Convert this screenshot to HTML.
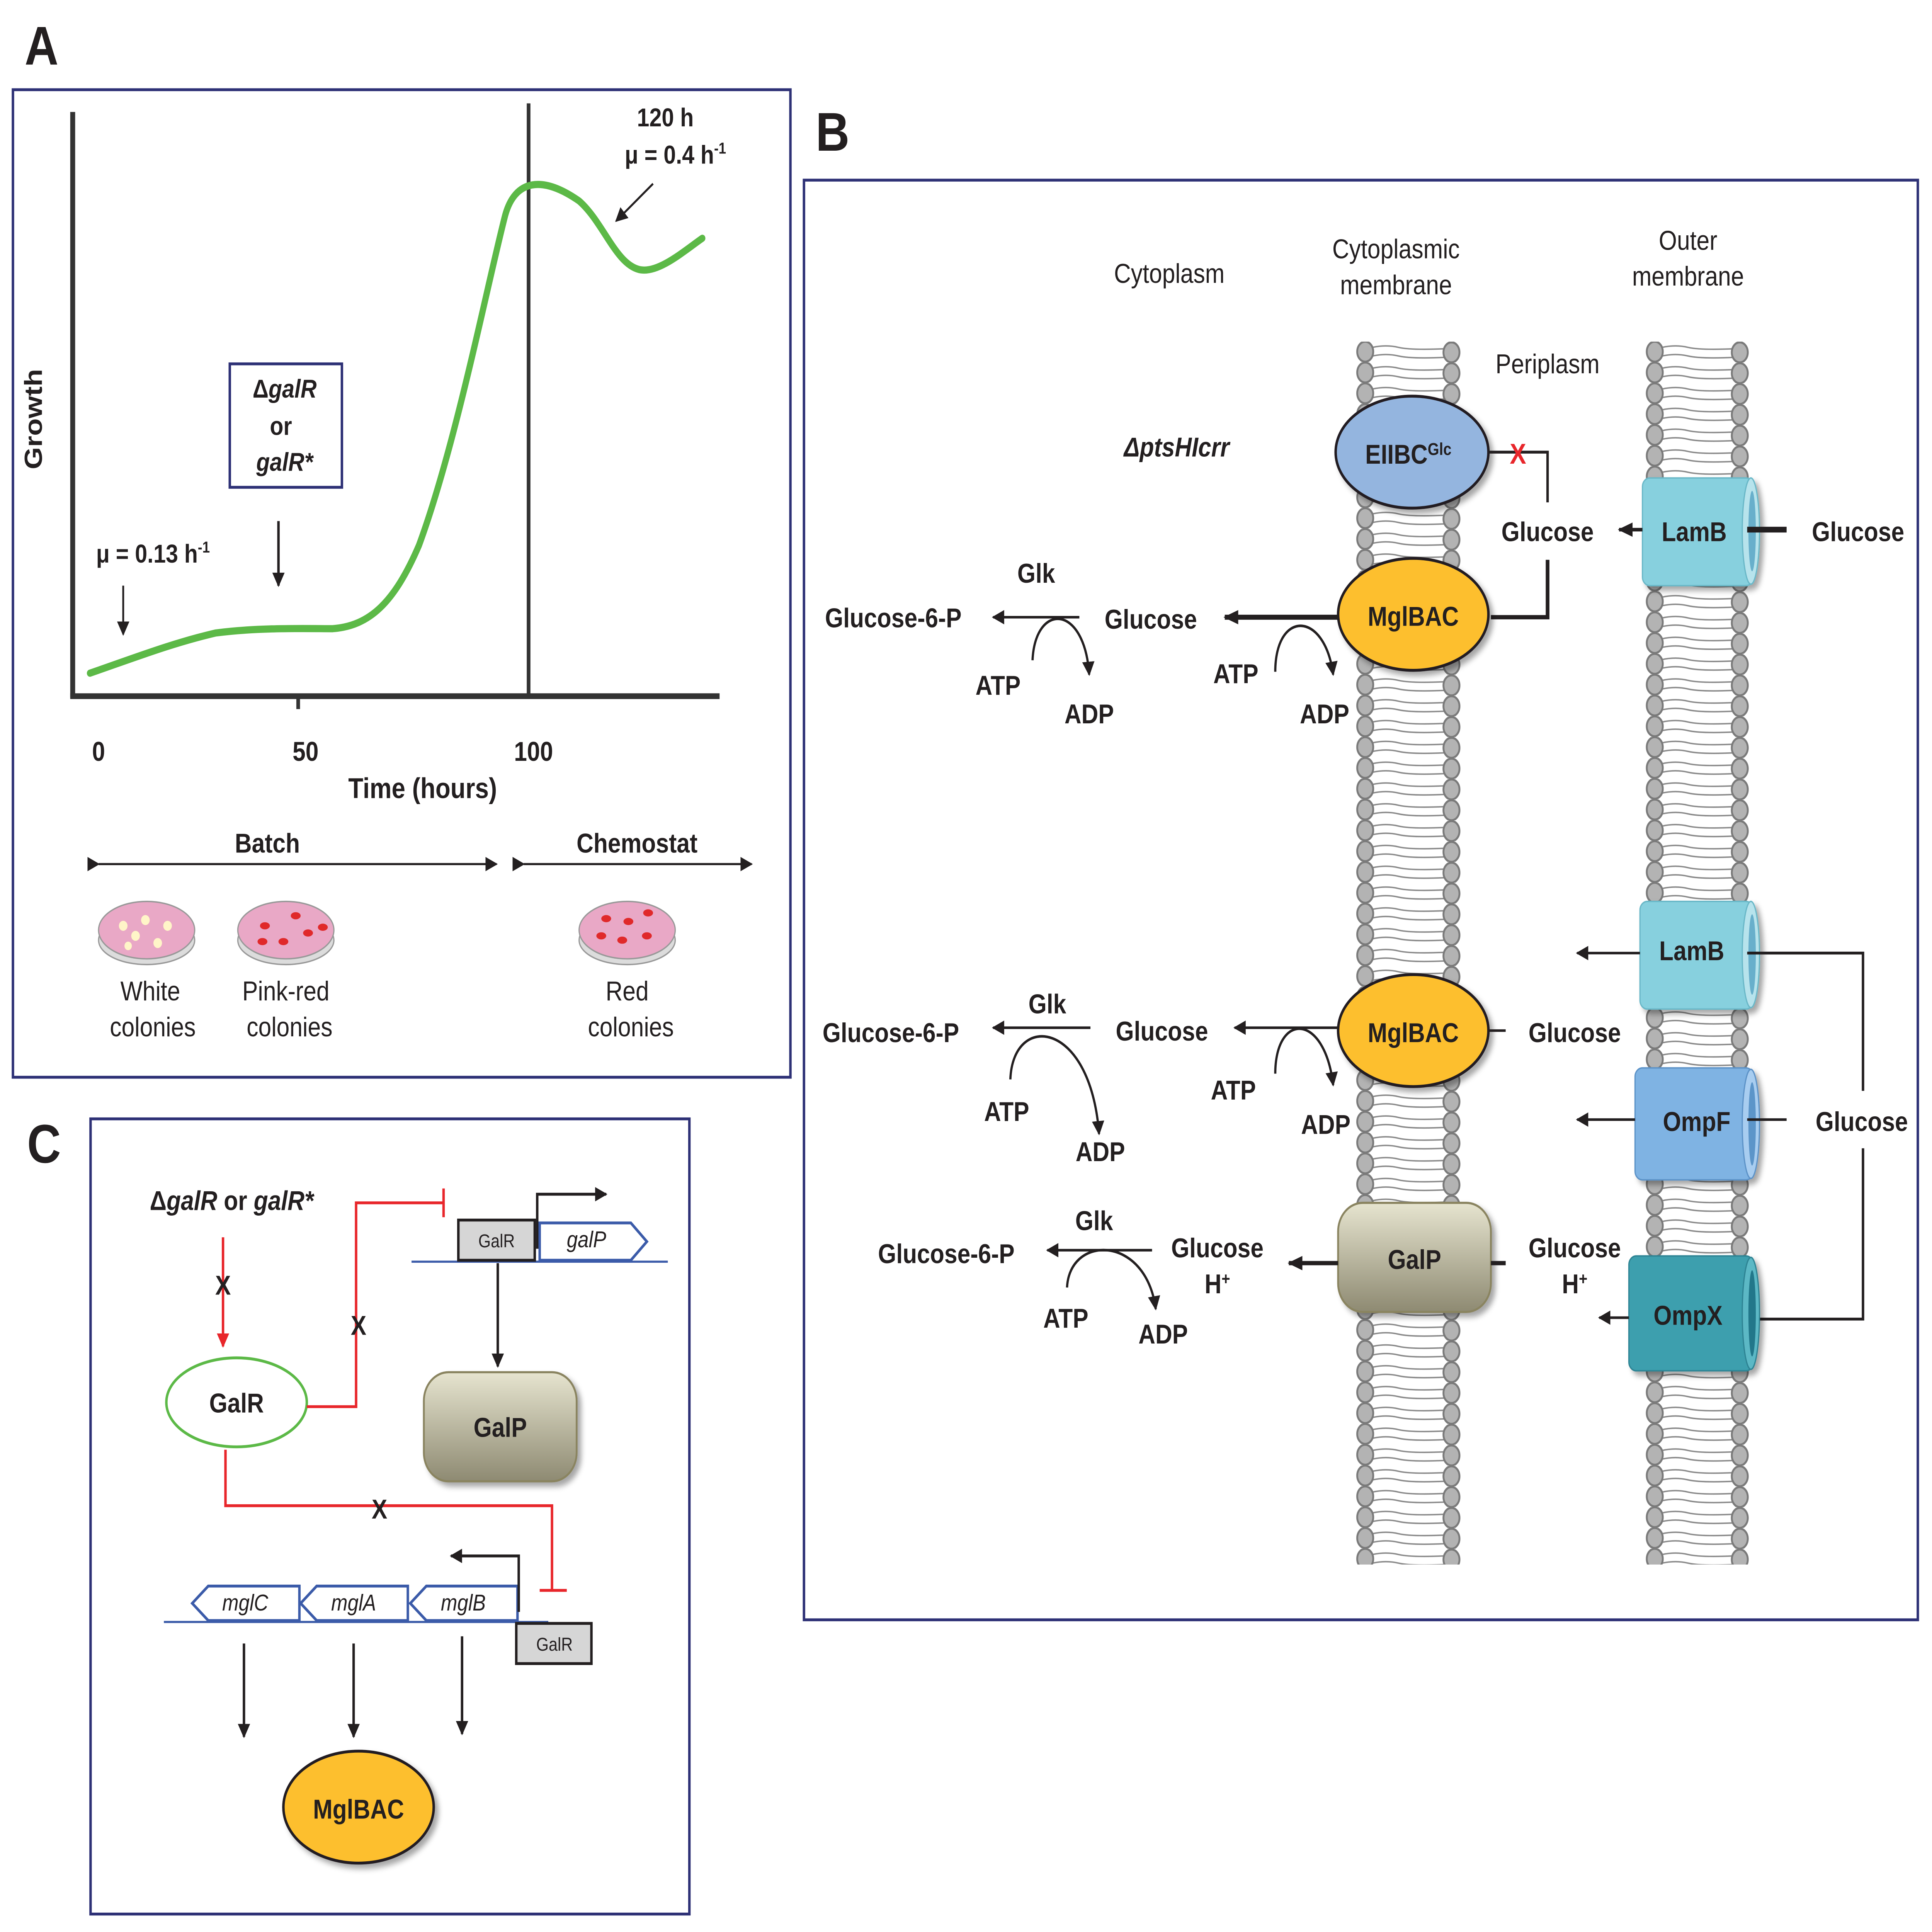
<!DOCTYPE html>
<html><head><meta charset="utf-8"><style>
html,body{margin:0;padding:0;background:#fff;overflow:hidden;width:100vw;height:100vh;}
svg{display:block;width:100vw;height:100vh;}
text{font-family:"Liberation Sans",Arial,sans-serif;fill:#231f20;}
.b{font-weight:bold;}
</style></head><body>
<svg viewBox="0 0 1568 1346" preserveAspectRatio="none" xmlns="http://www.w3.org/2000/svg">
<defs>
<pattern id="lip" x="1100" y="238" width="86" height="14.5" patternUnits="userSpaceOnUse">
<path d="M14 4 Q25 2 35 4 T72 5 M14 10 Q25 8 35 10 T72 11" stroke="#8a8a8a" stroke-width="1" fill="none"/>
<ellipse cx="8" cy="7" rx="6.5" ry="7" fill="#b3b3b3" stroke="#7a7a7a" stroke-width="1.5"/>
<ellipse cx="78" cy="7.5" rx="6.5" ry="7" fill="#b3b3b3" stroke="#7a7a7a" stroke-width="1.5"/>
</pattern>
<pattern id="lip2" x="1335" y="238" width="86" height="14.5" patternUnits="userSpaceOnUse">
<path d="M14 4 Q25 2 35 4 T72 5 M14 10 Q25 8 35 10 T72 11" stroke="#8a8a8a" stroke-width="1" fill="none"/>
<ellipse cx="8" cy="7" rx="6.5" ry="7" fill="#b3b3b3" stroke="#7a7a7a" stroke-width="1.5"/>
<ellipse cx="77" cy="7.5" rx="6.5" ry="7" fill="#b3b3b3" stroke="#7a7a7a" stroke-width="1.5"/>
</pattern>
<marker id="ah" markerWidth="10" markerHeight="10" refX="9" refY="5" orient="auto" markerUnits="userSpaceOnUse"><path d="M0 0 L10 5 L0 10 Z" fill="#231f20"/></marker>
<marker id="ahs" markerWidth="12" markerHeight="12" refX="11" refY="6" orient="auto" markerUnits="userSpaceOnUse"><path d="M0 1 L12 6 L0 11 Z" fill="#231f20"/></marker>
<marker id="ahr" markerWidth="10" markerHeight="10" refX="9" refY="5" orient="auto" markerUnits="userSpaceOnUse"><path d="M0 0 L10 5 L0 10 Z" fill="#e8262b"/></marker>
<linearGradient id="galp" x1="0" y1="0" x2="0" y2="1"><stop offset="0" stop-color="#e6e4cf"/><stop offset="1" stop-color="#8e8a72"/></linearGradient>
<filter id="sh" x="-20%" y="-20%" width="150%" height="150%"><feDropShadow dx="3" dy="3" stdDeviation="2" flood-color="#000" flood-opacity="0.35"/></filter>
</defs>

<!-- Panel A -->
<text x="20" y="45" class="b" font-size="38">A</text>
<rect x="10.5" y="62.5" width="631" height="688" fill="none" stroke="#2e3176" stroke-width="2"/>
<line x1="59" y1="78" x2="59" y2="486" stroke="#333" stroke-width="4"/>
<line x1="57" y1="485" x2="584" y2="485" stroke="#333" stroke-width="4"/>
<line x1="429" y1="72" x2="429" y2="485" stroke="#333" stroke-width="3"/>
<line x1="242" y1="485" x2="242" y2="494" stroke="#333" stroke-width="3"/>
<path d="M73 469 C110 458 140 448 175 441 C210 437 250 438 270 438 C300 436 320 420 340 380 C370 310 395 200 410 150 C418 125 440 122 470 140 C490 155 500 185 520 188 C535 190 555 175 570 166" fill="none" stroke="#5cb947" stroke-width="5" stroke-linecap="round"/>
<text x="80" y="530" class="b" font-size="19" text-anchor="middle">0</text>
<text x="248" y="530" class="b" font-size="19" text-anchor="middle">50</text>
<text x="433" y="530" class="b" font-size="19" text-anchor="middle">100</text>
<text x="343" y="556" class="b" font-size="20" text-anchor="middle">Time (hours)</text>
<text x="34" y="292" class="b" font-size="20" text-anchor="middle" transform="rotate(-90 34 292)">Growth</text>
<rect x="186.5" y="253.5" width="91" height="86" fill="#fff" stroke="#2e3176" stroke-width="2"/>
<text x="231" y="277" class="b" font-size="18" text-anchor="middle">Δ<tspan font-style="italic">galR</tspan></text>
<text x="228" y="303" class="b" font-size="18" text-anchor="middle">or</text>
<text x="231" y="328" class="b" font-size="18" font-style="italic" text-anchor="middle">galR*</text>
<line x1="226" y1="363" x2="226" y2="408" stroke="#231f20" stroke-width="2" marker-end="url(#ah)"/>
<text x="78" y="392" class="b" font-size="18">μ = 0.13 h<tspan font-size="11" dy="-7">-1</tspan></text>
<line x1="100" y1="408" x2="100" y2="442" stroke="#231f20" stroke-width="1.5" marker-end="url(#ah)"/>
<text x="540" y="88" class="b" font-size="18" text-anchor="middle">120 h</text>
<text x="507" y="114" class="b" font-size="18">μ = 0.4 h<tspan font-size="11" dy="-7">-1</tspan></text>
<line x1="530" y1="128" x2="500" y2="154" stroke="#231f20" stroke-width="1.5" marker-end="url(#ah)"/>
<text x="217" y="594" class="b" font-size="19" text-anchor="middle">Batch</text>
<line x1="80" y1="602" x2="403" y2="602" stroke="#231f20" stroke-width="1.5" marker-start="url(#ah)" marker-end="url(#ah)"/>
<text x="517" y="594" class="b" font-size="19" text-anchor="middle">Chemostat</text>
<line x1="425" y1="602" x2="610" y2="602" stroke="#231f20" stroke-width="1.5" marker-start="url(#ah)" marker-end="url(#ah)"/>
<g stroke="#999" stroke-width="1">
<ellipse cx="119" cy="655" rx="39" ry="17" fill="#dcdcdc"/><ellipse cx="119" cy="648" rx="39" ry="20" fill="#e9a8c6"/>
<ellipse cx="232" cy="655" rx="39" ry="17" fill="#dcdcdc"/><ellipse cx="232" cy="648" rx="39" ry="20" fill="#e9a8c6"/>
<ellipse cx="509" cy="655" rx="39" ry="17" fill="#dcdcdc"/><ellipse cx="509" cy="648" rx="39" ry="20" fill="#e9a8c6"/>
</g>
<g fill="#fff5c8"><circle cx="100" cy="645" r="3.5"/><circle cx="118" cy="641" r="3.5"/><circle cx="136" cy="645" r="3.5"/><circle cx="110" cy="652" r="3.5"/><circle cx="128" cy="657" r="3.5"/><circle cx="104" cy="659" r="3"/></g>
<g fill="#e0292a"><ellipse cx="215" cy="645" rx="4" ry="2.5"/><ellipse cx="240" cy="638" rx="4" ry="2.5"/><ellipse cx="250" cy="650" rx="4" ry="2.5"/><ellipse cx="230" cy="656" rx="4" ry="2.5"/><ellipse cx="213" cy="656" rx="4" ry="2.5"/><ellipse cx="262" cy="646" rx="4" ry="2.5"/>
<ellipse cx="492" cy="640" rx="4" ry="2.5"/><ellipse cx="510" cy="642" rx="4" ry="2.5"/><ellipse cx="526" cy="636" rx="4" ry="2.5"/><ellipse cx="488" cy="652" rx="4" ry="2.5"/><ellipse cx="505" cy="655" rx="4" ry="2.5"/><ellipse cx="525" cy="652" rx="4" ry="2.5"/></g>
<text x="122" y="697" font-size="19" text-anchor="middle">White</text>
<text x="124" y="722" font-size="19" text-anchor="middle">colonies</text>
<text x="232" y="697" font-size="19" text-anchor="middle">Pink-red</text>
<text x="235" y="722" font-size="19" text-anchor="middle">colonies</text>
<text x="509" y="697" font-size="19" text-anchor="middle">Red</text>
<text x="512" y="722" font-size="19" text-anchor="middle">colonies</text>

<!-- Panel B -->
<text x="662" y="105" class="b" font-size="38">B</text>
<rect x="652.5" y="125.5" width="904" height="1003" fill="none" stroke="#2e3176" stroke-width="2"/>
<text x="949" y="197" font-size="19" text-anchor="middle">Cytoplasm</text>
<text x="1133" y="180" font-size="19" text-anchor="middle">Cytoplasmic</text>
<text x="1133" y="205" font-size="19" text-anchor="middle">membrane</text>
<text x="1370" y="174" font-size="19" text-anchor="middle">Outer</text>
<text x="1370" y="199" font-size="19" text-anchor="middle">membrane</text>
<text x="1256" y="260" font-size="19" text-anchor="middle">Periplasm</text>
<rect x="1100" y="238" width="86" height="852" fill="url(#lip)"/>
<rect x="1335" y="238" width="86" height="852" fill="url(#lip2)"/>
<text x="955" y="318" class="b" font-size="19" font-style="italic" text-anchor="middle">ΔptsHIcrr</text>

<ellipse cx="1146" cy="315" rx="62" ry="39" fill="#94b5df" stroke="#231f20" stroke-width="2" filter="url(#sh)"/>
<text x="1108" y="323" class="b" font-size="19">EIIBC<tspan font-size="12" dy="-6">Glc</tspan></text>
<path d="M1208 315 H1256 V350" fill="none" stroke="#231f20" stroke-width="2"/>
<text x="1232" y="323" class="b" font-size="20" style="fill:#e8262b" text-anchor="middle">X</text>
<text x="1256" y="377" class="b" font-size="19" text-anchor="middle">Glucose</text>
<path d="M1256 390 V430 H1210" fill="none" stroke="#231f20" stroke-width="3"/>

<g filter="url(#sh)"><rect x="1333" y="333" width="90" height="75" rx="6" fill="#87d0de" stroke="#6bb8c8"/>
<ellipse cx="1421" cy="370" rx="7" ry="37" fill="#b7e3ec" stroke="#6bb8c8"/><ellipse cx="1422" cy="370" rx="3" ry="28" fill="#67afcb"/></g>
<text x="1375" y="377" class="b" font-size="19" text-anchor="middle">LamB</text>
<line x1="1418" y1="369" x2="1450" y2="369" stroke="#231f20" stroke-width="4"/>
<text x="1508" y="377" class="b" font-size="19" text-anchor="middle">Glucose</text>
<line x1="1333" y1="369" x2="1314" y2="369" stroke="#231f20" stroke-width="2.5" marker-end="url(#ahs)"/>

<ellipse cx="1147" cy="428" rx="61" ry="39" fill="#fdbf2d" stroke="#231f20" stroke-width="2" filter="url(#sh)"/>
<text x="1147" y="436" class="b" font-size="19" text-anchor="middle">MglBAC</text>
<line x1="1086" y1="430" x2="994" y2="430" stroke="#231f20" stroke-width="3.5" marker-end="url(#ahs)"/>
<text x="934" y="438" class="b" font-size="19" text-anchor="middle">Glucose</text>
<path d="M1035 468 C1035 425 1075 425 1082 470" fill="none" stroke="#231f20" stroke-width="1.8" marker-end="url(#ah)"/>
<text x="1003" y="476" class="b" font-size="19" text-anchor="middle">ATP</text>
<text x="1075" y="504" class="b" font-size="19" text-anchor="middle">ADP</text>
<line x1="876" y1="430" x2="806" y2="430" stroke="#231f20" stroke-width="1.8" marker-end="url(#ah)"/>
<text x="841" y="406" class="b" font-size="19" text-anchor="middle">Glk</text>
<text x="725" y="437" class="b" font-size="19" text-anchor="middle">Glucose-6-P</text>
<path d="M838 460 C840 420 880 420 884 470" fill="none" stroke="#231f20" stroke-width="1.8" marker-end="url(#ah)"/>
<text x="810" y="484" class="b" font-size="19" text-anchor="middle">ATP</text>
<text x="884" y="504" class="b" font-size="19" text-anchor="middle">ADP</text>

<g filter="url(#sh)"><rect x="1331" y="628" width="92" height="75" rx="6" fill="#87d0de" stroke="#6bb8c8"/>
<ellipse cx="1421" cy="665" rx="7" ry="37" fill="#b7e3ec" stroke="#6bb8c8"/><ellipse cx="1422" cy="665" rx="3" ry="28" fill="#67afcb"/></g>
<text x="1373" y="669" class="b" font-size="19" text-anchor="middle">LamB</text>
<line x1="1331" y1="664" x2="1280" y2="664" stroke="#231f20" stroke-width="1.8" marker-end="url(#ah)"/>
<path d="M1418 664 H1512 V760 M1512 800 V919 H1418" fill="none" stroke="#231f20" stroke-width="2"/>
<text x="1511" y="788" class="b" font-size="19" text-anchor="middle">Glucose</text>
<g filter="url(#sh)"><rect x="1327" y="744" width="96" height="78" rx="6" fill="#7fb3e3" stroke="#5d93c8"/>
<ellipse cx="1421" cy="783" rx="7" ry="38" fill="#a8cdf0" stroke="#5d93c8"/><ellipse cx="1422" cy="783" rx="3" ry="29" fill="#5b95c9"/></g>
<text x="1377" y="788" class="b" font-size="19" text-anchor="middle">OmpF</text>
<line x1="1418" y1="780" x2="1450" y2="780" stroke="#231f20" stroke-width="1.8"/>
<line x1="1327" y1="780" x2="1280" y2="780" stroke="#231f20" stroke-width="1.8" marker-end="url(#ah)"/>
<g filter="url(#sh)"><rect x="1322" y="875" width="101" height="80" rx="6" fill="#3c9fae" stroke="#2d8494"/>
<ellipse cx="1421" cy="915" rx="7" ry="39" fill="#5bb8c5" stroke="#2d8494"/><ellipse cx="1422" cy="915" rx="3" ry="30" fill="#20778a"/></g>
<text x="1370" y="923" class="b" font-size="19" text-anchor="middle">OmpX</text>
<line x1="1322" y1="918" x2="1298" y2="918" stroke="#231f20" stroke-width="1.8" marker-end="url(#ah)"/>

<ellipse cx="1147" cy="718" rx="61" ry="39" fill="#fdbf2d" stroke="#231f20" stroke-width="2" filter="url(#sh)"/>
<text x="1147" y="726" class="b" font-size="19" text-anchor="middle">MglBAC</text>
<line x1="1208" y1="718" x2="1222" y2="718" stroke="#231f20" stroke-width="1.8"/>
<text x="1278" y="726" class="b" font-size="19" text-anchor="middle">Glucose</text>
<line x1="1086" y1="716" x2="1002" y2="716" stroke="#231f20" stroke-width="1.8" marker-end="url(#ah)"/>
<text x="943" y="725" class="b" font-size="19" text-anchor="middle">Glucose</text>
<path d="M1035 748 C1035 705 1075 705 1082 756" fill="none" stroke="#231f20" stroke-width="1.8" marker-end="url(#ah)"/>
<text x="1001" y="766" class="b" font-size="19" text-anchor="middle">ATP</text>
<text x="1076" y="790" class="b" font-size="19" text-anchor="middle">ADP</text>
<line x1="885" y1="716" x2="806" y2="716" stroke="#231f20" stroke-width="1.8" marker-end="url(#ah)"/>
<text x="850" y="706" class="b" font-size="19" text-anchor="middle">Glk</text>
<text x="723" y="726" class="b" font-size="19" text-anchor="middle">Glucose-6-P</text>
<path d="M820 752 C822 705 885 710 892 790" fill="none" stroke="#231f20" stroke-width="1.8" marker-end="url(#ah)"/>
<text x="817" y="781" class="b" font-size="19" text-anchor="middle">ATP</text>
<text x="893" y="809" class="b" font-size="19" text-anchor="middle">ADP</text>

<rect x="1086" y="838" width="124" height="76" rx="20" fill="url(#galp)" stroke="#8a8460" stroke-width="1.5" filter="url(#sh)"/>
<text x="1148" y="884" class="b" font-size="19" text-anchor="middle">GalP</text>
<line x1="1210" y1="880" x2="1222" y2="880" stroke="#231f20" stroke-width="3"/>
<text x="1278" y="876" class="b" font-size="19" text-anchor="middle">Glucose</text>
<text x="1278" y="901" class="b" font-size="19" text-anchor="middle">H<tspan font-size="12" dy="-6">+</tspan></text>
<line x1="1086" y1="880" x2="1046" y2="880" stroke="#231f20" stroke-width="3" marker-end="url(#ahs)"/>
<text x="988" y="876" class="b" font-size="19" text-anchor="middle">Glucose</text>
<text x="988" y="901" class="b" font-size="19" text-anchor="middle">H<tspan font-size="12" dy="-6">+</tspan></text>
<line x1="935" y1="871" x2="850" y2="871" stroke="#231f20" stroke-width="1.8" marker-end="url(#ah)"/>
<text x="888" y="857" class="b" font-size="19" text-anchor="middle">Glk</text>
<text x="768" y="880" class="b" font-size="19" text-anchor="middle">Glucose-6-P</text>
<path d="M866 897 C868 860 930 860 938 912" fill="none" stroke="#231f20" stroke-width="1.8" marker-end="url(#ah)"/>
<text x="865" y="925" class="b" font-size="19" text-anchor="middle">ATP</text>
<text x="944" y="936" class="b" font-size="19" text-anchor="middle">ADP</text>

<!-- Panel C -->
<text x="22" y="810" class="b" font-size="38">C</text>
<rect x="73.5" y="779.5" width="486" height="554" fill="none" stroke="#2e3176" stroke-width="2"/>
<text x="188" y="843" class="b" font-size="19" text-anchor="middle">Δ<tspan font-style="italic">galR</tspan> or <tspan font-style="italic">galR*</tspan></text>
<line x1="181" y1="862" x2="181" y2="938" stroke="#e8262b" stroke-width="2" marker-end="url(#ahr)"/>
<text x="181" y="902" class="b" font-size="19" text-anchor="middle">X</text>
<ellipse cx="192" cy="977" rx="57" ry="31" fill="#fff" stroke="#5cb947" stroke-width="2"/>
<text x="192" y="984" class="b" font-size="19" text-anchor="middle">GalR</text>
<path d="M249 980 H289 V838 H360 M360 828 V848" fill="none" stroke="#e8262b" stroke-width="2"/>
<text x="291" y="930" class="b" font-size="19" text-anchor="middle">X</text>
<line x1="334" y1="879" x2="542" y2="879" stroke="#3b5ba9" stroke-width="1.5"/>
<rect x="372" y="850" width="62" height="28" fill="#d6d6d6" stroke="#231f20" stroke-width="2"/>
<text x="403" y="869" font-size="13" text-anchor="middle">GalR</text>
<path d="M438 852 H512 L525 865 L512 878 H438 Z" fill="#fff" stroke="#3b5ba9" stroke-width="2"/>
<text x="476" y="869" font-size="16" font-style="italic" text-anchor="middle">galP</text>
<path d="M436 870 V832 H492" fill="none" stroke="#231f20" stroke-width="2" marker-end="url(#ah)"/>
<line x1="404" y1="880" x2="404" y2="952" stroke="#231f20" stroke-width="2" marker-end="url(#ah)"/>
<rect x="344" y="956" width="124" height="76" rx="20" fill="url(#galp)" stroke="#8a8460" stroke-width="1.5" filter="url(#sh)"/>
<text x="406" y="1001" class="b" font-size="19" text-anchor="middle">GalP</text>
<path d="M183 1010 V1049 H448 V1108 M438 1108 H460" fill="none" stroke="#e8262b" stroke-width="2"/>
<text x="308" y="1058" class="b" font-size="19" text-anchor="middle">X</text>
<line x1="133" y1="1130" x2="445" y2="1130" stroke="#3b5ba9" stroke-width="1.5"/>
<path d="M243 1105 H169 L156 1117 L169 1129 H243 Z" fill="#fff" stroke="#3b5ba9" stroke-width="2"/>
<text x="199" y="1122" font-size="16" font-style="italic" text-anchor="middle">mglC</text>
<path d="M331 1105 H257 L244 1117 L257 1129 H331 Z" fill="#fff" stroke="#3b5ba9" stroke-width="2"/>
<text x="287" y="1122" font-size="16" font-style="italic" text-anchor="middle">mglA</text>
<path d="M420 1105 H346 L333 1117 L346 1129 H420 Z" fill="#fff" stroke="#3b5ba9" stroke-width="2"/>
<text x="376" y="1122" font-size="16" font-style="italic" text-anchor="middle">mglB</text>
<rect x="419" y="1131" width="61" height="28" fill="#d6d6d6" stroke="#231f20" stroke-width="2"/>
<text x="450" y="1150" font-size="13" text-anchor="middle">GalR</text>
<path d="M421 1123 V1084 H366" fill="none" stroke="#231f20" stroke-width="2" marker-end="url(#ah)"/>
<line x1="198" y1="1145" x2="198" y2="1210" stroke="#231f20" stroke-width="2" marker-end="url(#ah)"/>
<line x1="287" y1="1145" x2="287" y2="1210" stroke="#231f20" stroke-width="2" marker-end="url(#ah)"/>
<line x1="375" y1="1140" x2="375" y2="1208" stroke="#231f20" stroke-width="2" marker-end="url(#ah)"/>
<ellipse cx="291" cy="1259" rx="61" ry="39" fill="#fdbf2d" stroke="#231f20" stroke-width="2" filter="url(#sh)"/>
<text x="291" y="1267" class="b" font-size="19" text-anchor="middle">MglBAC</text>
</svg>
</body></html>
